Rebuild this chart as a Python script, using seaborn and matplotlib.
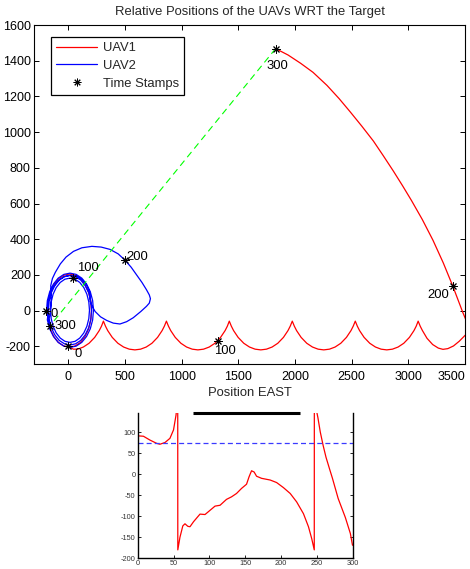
import matplotlib
matplotlib.use("Agg")
import matplotlib.pyplot as plt
import seaborn as sns
import pandas as pd
from matplotlib.lines import Line2D

# ---------------- data ----------------
# UAV1 path (relative EAST, NORTH)
uav1_east = [10, 60, 108, 148, 179, 198, 205, 198, 179, 148, 108, 60, 10, -40, -88, -128, -159, -178, -185, -178, -159, -128, -88, -40, 10,
             45, 83, 133, 183, 233, 273, 293, 310,
             328, 348, 388, 438, 488, 538, 588, 638, 688, 738, 788, 828, 848, 866,
             884, 904, 944, 994, 1044, 1094, 1144, 1194, 1244, 1294, 1344, 1384, 1404, 1421,
             1439, 1459, 1499, 1549, 1599, 1649, 1699, 1749, 1799, 1849, 1899, 1939, 1959, 1977,
             1995, 2015, 2055, 2105, 2155, 2205, 2255, 2305, 2355, 2405, 2455, 2495, 2515, 2533,
             2551, 2571, 2611, 2661, 2711, 2761, 2811, 2861, 2911, 2961, 3011, 3051, 3071, 3088,
             3106, 3126, 3166, 3216, 3266, 3307, 3350, 3400, 3450, 3500,
             3600, 3650, 3560,
             3520, 3482, 3440, 3394, 3310, 3219, 3125, 3029, 2950, 2868, 2780, 2693, 2590, 2489, 2390, 2283, 2160, 2050, 1940, 1830]
uav1_north = [-205, -198, -178, -145, -103, -53, 0, 53, 103, 145, 178, 198, 205, 198, 178, 145, 103, 53, 0, -53, -103, -145, -178, -198, -205,
              -216, -216, -204, -183, -150, -112, -87, -59,
              -87, -112, -150, -183, -204, -216, -220, -216, -204, -183, -150, -112, -87, -59,
              -87, -112, -150, -183, -204, -216, -220, -216, -204, -183, -150, -112, -87, -59,
              -87, -112, -150, -183, -204, -216, -220, -216, -204, -183, -150, -112, -87, -59,
              -87, -112, -150, -183, -204, -216, -220, -216, -204, -183, -150, -112, -87, -59,
              -87, -112, -150, -183, -204, -216, -220, -216, -204, -183, -150, -112, -87, -59,
              -87, -112, -155, -190, -210, -217, -213, -198, -172, -140,
              -80, -150, -125,
              -68, -10, 61, 137, 267, 394, 510, 617, 700, 783, 868, 950, 1034, 1113, 1188, 1262, 1335, 1386, 1432, 1468]

# UAV2 path
uav2_east = [-192, -185, -164, -131, -89, -39, 15, 69, 119, 161, 194, 215, 222, 215, 194, 161, 119, 69, 15, -39, -89, -131, -164, -185,
             -175, -169, -150, -119, -80, -34, 15, 64, 110, 149, 180, 199, 205, 199, 180, 149, 110, 64, 15, -34, -80, -119, -150, -169,
             -157, -151, -134, -107, -71, -30, 15, 60, 101, 137, 164, 181, 187, 181, 164, 137, 101, 60, 15, -30, -71, -107, -134, -151,
             -157, -151,
             -152, -155, -140, -114, -70, -20, 46, 120, 208, 290, 368, 440, 500, 555, 603, 650, 690, 715, 725, 715, 690, 640, 573, 515,
             456, 397, 339, 285, 237, 210, 193,
             190, 165, 125, 75, 15, -40, -90, -130, -160, -178, -182, -175, -164]
uav2_north = [2, 56, 106, 149, 182, 203, 210, 203, 182, 149, 106, 56, 2, -52, -102, -145, -178, -199, -206, -199, -178, -145, -102, -52,
              2, 52, 100, 140, 171, 190, 197, 190, 171, 140, 100, 52, 2, -48, -96, -136, -167, -186, -193, -186, -167, -136, -96, -48,
              2, 49, 92, 129, 158, 176, 182, 176, 158, 129, 92, 49, 2, -45, -88, -125, -154, -172, -178, -172, -154, -125, -88, -45,
              2, 49,
              98, 140, 180, 215, 262, 300, 332, 352, 360, 356, 343, 318, 283, 243, 200, 158, 117, 88, 67, 42, 24, -5, -40, -62,
              -75, -70, -55, -35, -5, 25, 52,
              100, 140, 172, 192, 198, 190, 168, 135, 95, 50, 0, -50, -87]

# time stamps
stamp_labels = ["0", "100", "200", "300"]
uav1_stamp_east = [0, 1324, 3394, 1830]
uav1_stamp_north = [-200, -172, 137, 1468]
uav2_stamp_east = [-196, 38, 500, -164]
uav2_stamp_north = [0, 182, 283, -87]
# label anchor (left / centre) positions
uav1_label_east = [53, 1289, 3169, 1752]
uav1_label_north = [-244, -226, 89, 1371]
uav2_label_east = [-158, 76, 515, -123]
uav2_label_north = [-17, 241, 302, -87]

xticks_main = [0, 500, 1000, 1500, 2000, 2500, 3000, 3500]
yticks_main = [-200, 0, 200, 400, 600, 800, 1000, 1200, 1400, 1600]

# lower (cropped) panel: heading angle vs time
ang_t = [0, 8, 17, 26.6, 31, 38, 45, 50, 53.5, 55.9, 56.0, 59, 63, 66, 70, 73, 78, 87, 94, 101, 108, 115, 124, 131, 138, 145, 152,
         155.6, 159, 162.6, 166, 173, 185, 194, 203.5, 213, 222, 231.5, 238.5, 243, 246.6, 246.7, 248, 251.6, 255, 259, 263, 268, 272,
         280, 290, 297, 300]
ang_v = [91, 90, 81, 73, 71, 75, 85, 105, 140, 180, -180, -150, -123, -118, -124, -125, -113, -95, -96, -86, -76, -74, -60, -54,
         -46, -34, -24, -6, 8, 5, -5, -10, -14, -20, -32, -46, -66, -94, -125, -153, -180, 180, 165, 135, 100, 68, 40, 12, -10,
         -58, -103, -141, -169]
ref_t = [0, 300]
ref_v = [75, 75]
xticks_small = [0, 50, 100, 150, 200, 250, 300]
yticks_small = [-200, -150, -100, -50, 0, 50, 100]

# ---------------- style ----------------
sns.set_theme(style="white")
plt.rcParams["font.family"] = ["Liberation Sans", "DejaVu Sans"]
plt.rcParams["axes.unicode_minus"] = False

fig = plt.figure(figsize=(4.70, 5.69), dpi=100)
ax = fig.add_axes([0.073, 0.360, 0.916, 0.596])

df1 = pd.DataFrame({"east": uav1_east, "north": uav1_north})
df2 = pd.DataFrame({"east": uav2_east, "north": uav2_north})
sns.lineplot(data=df1, x="east", y="north", sort=False, estimator=None, color="#ff0000", lw=0.9, ax=ax)
sns.lineplot(data=df2, x="east", y="north", sort=False, estimator=None, color="#0000ff", lw=0.9, ax=ax)
sns.lineplot(x=[uav1_stamp_east[3], uav2_stamp_east[3]], y=[uav1_stamp_north[3], uav2_stamp_north[3]],
             sort=False, estimator=None, color="#00ff00", lw=0.8, linestyle=(0, (6, 4)), ax=ax)
for e, n in ((uav1_stamp_east, uav1_stamp_north), (uav2_stamp_east, uav2_stamp_north)):
    sns.scatterplot(x=e, y=n, marker=(8, 2, 0), s=28, color="black", edgecolor="black", linewidth=0.7, ax=ax, zorder=5)

for lab, e, n in zip(stamp_labels, uav1_label_east, uav1_label_north):
    ax.text(e, n, lab, fontsize=9.4, ha="left", va="center", color="#000000")
for lab, e, n in zip(stamp_labels, uav2_label_east, uav2_label_north):
    ax.text(e, n, lab, fontsize=9.4, ha="left", va="center", color="#000000")

ax.set_xlim(-300, 3500)
ax.set_ylim(-300, 1600)
ax.set_xticks(xticks_main)
ax.set_yticks(yticks_main)
ax.tick_params(direction="in", length=3.5, width=0.7, top=True, right=True, bottom=True, left=True,
               labelsize=9.0, colors="black")
ax.tick_params(axis="x", pad=5)
ax.tick_params(axis="y", pad=2.5)
# keep the last x tick label inside the figure
ax.get_xticklabels()[-1].set_horizontalalignment("right")
for s in ax.spines.values():
    s.set_color("black")
    s.set_linewidth(0.8)
ax.set_title("Relative Positions of the UAVs WRT the Target", fontsize=9.4, pad=7)
ax.set_xlabel("Position EAST", fontsize=9.4, labelpad=2.5)
ax.set_ylabel("")

handles = [Line2D([], [], color="#ff0000", lw=0.9),
           Line2D([], [], color="#0000ff", lw=0.9),
           Line2D([], [], color="black", lw=0, marker=(8, 2, 0), markersize=5.5, markeredgewidth=0.7)]
leg = ax.legend(handles, ["UAV1", "UAV2", "Time Stamps"], loc="upper left", bbox_to_anchor=(0.039, 0.965),
                borderaxespad=0, fontsize=9.4, frameon=True, fancybox=False, framealpha=1,
                handlelength=3.1, handletextpad=0.45, labelspacing=0.42, borderpad=0.4)
leg.get_frame().set_edgecolor("black")
leg.get_frame().set_linewidth(0.9)

# ---------------- lower cropped panel ----------------
ax2 = fig.add_axes([0.293, 0.0188, 0.457, 0.2552])
sns.lineplot(x=ang_t, y=ang_v, sort=False, estimator=None, color="#ff0000", lw=0.9, ax=ax2)
sns.lineplot(x=ref_t, y=ref_v, sort=False, estimator=None, color="#3a3aff", lw=0.9, linestyle=(0, (4, 2.5)), ax=ax2)
ax2.set_xlim(0, 300)
ax2.set_ylim(-200, 145)
ax2.set_xticks(xticks_small)
ax2.set_yticks(yticks_small)
ax2.tick_params(direction="in", length=2.5, width=0.6, right=True, left=True, bottom=True, top=False,
                labelright=False, labelsize=5.3, pad=1.5, colors="black", labelcolor="#333333")
ax2.spines["top"].set_visible(False)
for k in ("left", "right", "bottom"):
    ax2.spines[k].set_color("black")
    ax2.spines[k].set_linewidth(1.0)
ax2.plot([0.258, 0.756], [1.0, 1.0], transform=ax2.transAxes, color="black", lw=2.2, clip_on=False,
         solid_capstyle="butt")
ax2.set_xlabel("")
ax2.set_ylabel("")

fig.savefig("out.png", dpi=100)
